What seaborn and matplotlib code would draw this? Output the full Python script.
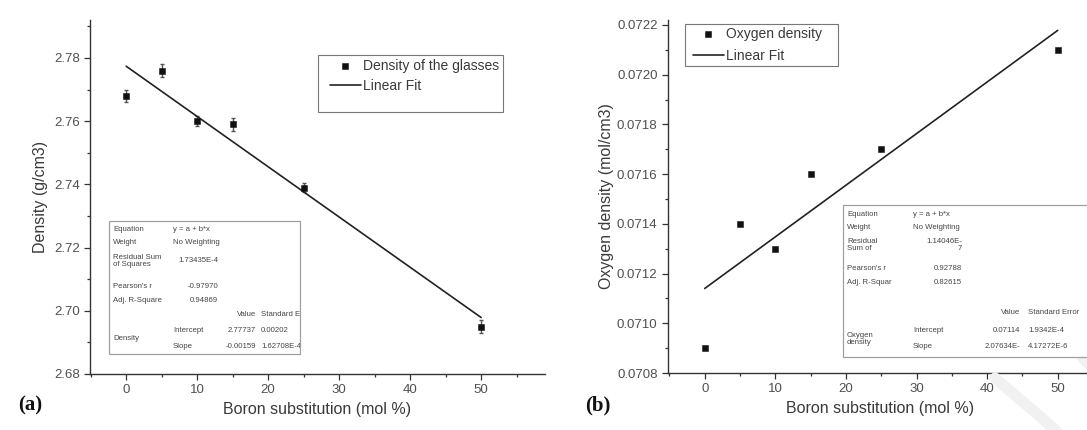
import numpy as np
import pandas as pd
import matplotlib.pyplot as plt
import seaborn as sns
from matplotlib.ticker import MultipleLocator
from matplotlib.lines import Line2D

sns.set_theme(style="ticks")
plt.rcParams["font.family"] = ["Liberation Sans", "DejaVu Sans"]

# data
boron = [0, 5, 10, 15, 25, 50]
density = [2.768, 2.776, 2.760, 2.759, 2.739, 2.695]
density_err = [0.002, 0.002, 0.0015, 0.002, 0.0015, 0.002]
oxygen = [0.0709, 0.0714, 0.0713, 0.0716, 0.0717, 0.0721]

dens_fit = (2.77737, -0.00159)      # intercept, slope
oxy_fit = (0.07114, 2.07634e-5)

dens_table = [
    ("Equation", "y = a + b*x"),
    ("Weight", "No Weighting"),
    ("Residual Sum\nof Squares", "1.73435E-4"),
    ("Pearson's r", "-0.97970"),
    ("Adj. R-Square", "0.94869"),
]
dens_params = [("Intercept", "2.77737", "0.00202"), ("Slope", "-0.00159", "1.62708E-4")]

oxy_table = [
    ("Equation", "y = a + b*x"),
    ("Weight", "No Weighting"),
    ("Residual\nSum of", "1.14046E-\n7"),
    ("Pearson's r", "0.92788"),
    ("Adj. R-Squar", "0.82615"),
]
oxy_params = [("Intercept", "0.07114", "1.9342E-4"), ("Slope", "2.07634E-", "4.17272E-6")]

df = pd.DataFrame({"x": boron, "density": density, "oxygen": oxygen})
xfit = np.array([0, 50])

TXT = "#3a3a3a"
W, H = 1087, 430
fig = plt.figure(figsize=(W / 100, H / 100), dpi=100)


def fx(px):
    return px / W


def fy(py):
    return 1 - py / H


ax1 = fig.add_axes([fx(90), fy(374), fx(545 - 90), (374 - 20) / H])
ax2 = fig.add_axes([fx(668), fy(373), fx(1093 - 668), (373 - 20) / H])

# (a) density
ax1.errorbar(df["x"], df["density"], yerr=density_err, fmt="none", ecolor="#555555",
             elinewidth=1, capsize=1.5, zorder=2)
sns.scatterplot(data=df, x="x", y="density", marker="s", s=22, color="#111111",
                edgecolor="#111111", ax=ax1, zorder=3, label="Density of the glasses")
sns.lineplot(x=xfit, y=dens_fit[0] + dens_fit[1] * xfit, color="#222222", lw=1.2,
             ax=ax1, label="Linear Fit")
ax1.set_xlim(-5.1, 59)
ax1.set_ylim(2.68, 2.792)
ax1.set_yticks([2.68, 2.70, 2.72, 2.74, 2.76, 2.78])
ax1.yaxis.set_minor_locator(MultipleLocator(0.01))
ax1.set_ylabel("Density (g/cm3)", fontsize=11.5, color=TXT, labelpad=4)
ax1.yaxis.set_major_formatter(plt.FormatStrFormatter("%.2f"))

# (b) oxygen density
sns.scatterplot(data=df, x="x", y="oxygen", marker="s", s=22, color="#111111",
                edgecolor="#111111", ax=ax2, zorder=3, label="Oxygen density")
sns.lineplot(x=xfit, y=oxy_fit[0] + oxy_fit[1] * xfit, color="#222222", lw=1.2,
             ax=ax2, label="Linear Fit")
ax2.set_xlim(-5.2, 55)
ax2.set_ylim(0.0708, 0.07222)
ax2.set_yticks(np.arange(0.0708, 0.07221, 0.0002))
ax2.yaxis.set_minor_locator(MultipleLocator(0.0001))
ax2.set_ylabel("Oxygen density (mol/cm3)", fontsize=11.5, color=TXT, labelpad=2)
ax2.yaxis.set_major_formatter(plt.FormatStrFormatter("%.4f"))

for ax in (ax1, ax2):
    ax.set_xticks([0, 10, 20, 30, 40, 50])
    ax.xaxis.set_minor_locator(MultipleLocator(5))
    ax.set_xlabel("Boron substitution (mol %)", fontsize=11.5, color=TXT, labelpad=4)
    ax.tick_params(which="major", direction="out", length=4, width=0.9, labelsize=9.5,
                   colors="#333333", labelcolor="#505050")
    ax.tick_params(which="minor", direction="out", length=2.5, width=0.9, colors="#333333")
    sns.despine(ax=ax)
    for s in ("left", "bottom"):
        ax.spines[s].set_color("#333333")
        ax.spines[s].set_linewidth(1.0)

legend_kw = dict(loc="upper left", frameon=False, fontsize=10, handlelength=2.2,
                 handletextpad=0.2, borderpad=0, borderaxespad=0, labelcolor=TXT,
                 bbox_transform=fig.transFigure)
ax1.legend(bbox_to_anchor=(fx(330), fy(59)), labelspacing=0.45, **legend_kw)
ax2.legend(bbox_to_anchor=(fx(693), fy(27)), labelspacing=0.6, **legend_kw)
# legend frames (panel (a) box is taller than its entries)
for x0, y0, x1, y1 in [(318, 55, 503, 112), (685, 24, 838, 66)]:
    fig.add_artist(plt.Rectangle((fx(x0), fy(y1)), fx(x1 - x0), (y1 - y0) / H, fill=False,
                                 edgecolor="#777777", lw=0.8, transform=fig.transFigure))

fig.text(fx(18), fy(405), "(a)", fontsize=15, fontweight="bold", family="Liberation Serif",
         va="center", color="#111111")
fig.text(fx(585), fy(405), "(b)", fontsize=15, fontweight="bold", family="Liberation Serif",
         va="center", color="#111111")


def is_num(s):
    return s[0].isdigit() or s[0] == "-"


def fit_table(box, rows, group, params, cols, row_y, par_y):
    # cols: label x, text col x, numeric col right edge, value right edge, std err x
    x0, y0, x1, y1 = box
    rect = plt.Rectangle((fx(x0), fy(y1)), fx(x1 - x0), (y1 - y0) / H, fill=True,
                         facecolor="white", edgecolor="#a0a0a0", lw=0.9,
                         transform=fig.transFigure, zorder=5)
    fig.add_artist(rect)
    kw = dict(fontsize=5.6, color="#454545", zorder=6, linespacing=1.0, va="center")
    texts = []
    for (lab, val), yy in zip(rows, row_y):
        texts.append(fig.text(fx(cols[0]), fy(yy), lab, **kw))
        if is_num(val):
            texts.append(fig.text(fx(cols[2]), fy(yy), val, ha="right", **kw))
        else:
            texts.append(fig.text(fx(cols[1]), fy(yy), val, **kw))
    texts.append(fig.text(fx(cols[3]), fy(par_y[0]), "Value", ha="right", **kw))
    texts.append(fig.text(fx(cols[4]), fy(par_y[0]), "Standard Error", **kw))
    texts.append(fig.text(fx(cols[0]), fy((par_y[1] + par_y[2]) / 2), group, **kw))
    for (name, val, err), yy in zip(params, par_y[1:]):
        texts.append(fig.text(fx(cols[1]), fy(yy), name, **kw))
        texts.append(fig.text(fx(cols[3]), fy(yy), val, ha="right", **kw))
        texts.append(fig.text(fx(cols[4]), fy(yy), err, **kw))
    for t in texts:
        t.set_clip_path(rect)


fit_table((109, 221, 300, 354), dens_table, "Density", dens_params,
          (113, 173, 218, 256, 261), (230, 243, 261, 286, 301), (315, 331, 346))
fit_table((843, 205, 1100, 357), oxy_table, "Oxygen\ndensity", oxy_params,
          (847, 913, 962, 1020, 1028), (215, 228, 245, 268, 282), (313, 331, 347))

# faint watermark bands in the lower right corner
for (xa, ya), (xb, yb) in [((1030, 296), (1095, 372)), ((995, 378), (1065, 438))]:
    fig.add_artist(Line2D([fx(xa), fx(xb)], [fy(ya), fy(yb)], color="#f1f1f1", lw=8,
                          transform=fig.transFigure, zorder=0.5))

fig.savefig("out.png", dpi=100)
